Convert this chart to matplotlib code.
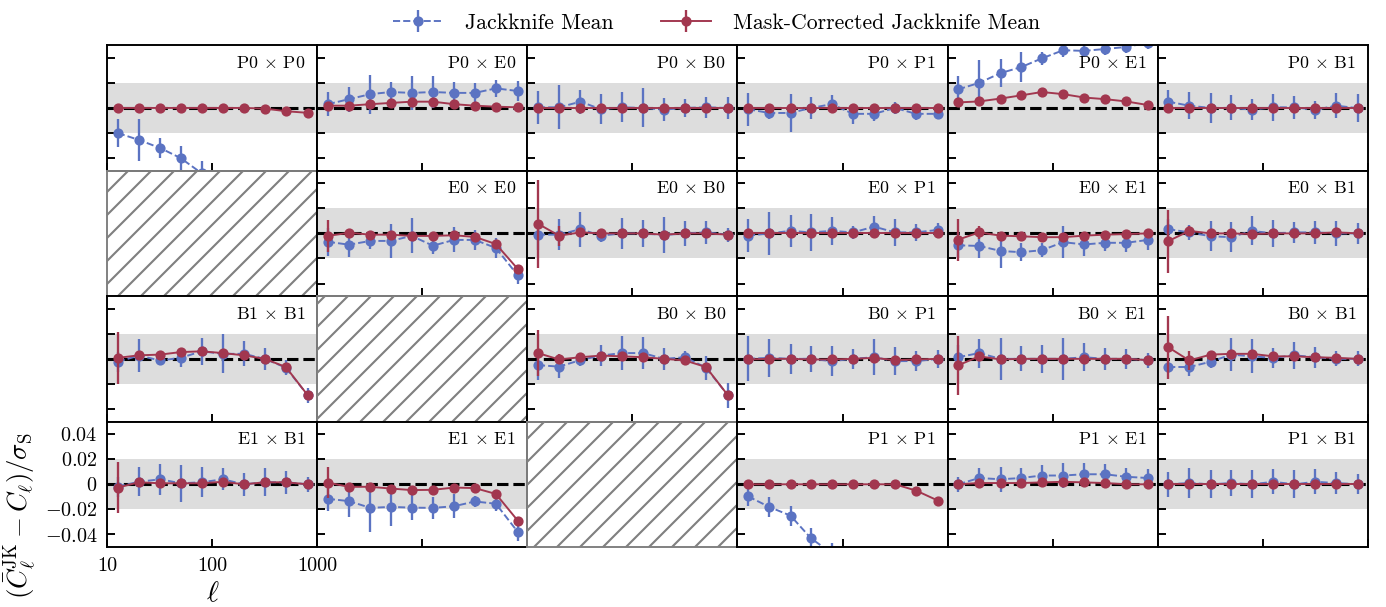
import matplotlib
matplotlib.use("Agg")
import matplotlib.pyplot as plt
from matplotlib.patches import Rectangle
import numpy as np

plt.rcParams.update({
    "font.family": "serif",
    "font.serif": ["cmr10"],
    "mathtext.fontset": "cm",
    "axes.formatter.use_mathtext": True,
    "axes.unicode_minus": False,
    "hatch.color": "gray",
    "hatch.linewidth": 1.1,
})

# multipole bin centres
ell = [12.6, 20, 32, 50, 79, 126, 200, 316, 501, 810]

# panel grid, None marks an unused slot
grid = [
    ["P0 P0", "P0 E0", "P0 B0", "P0 P1", "P0 E1", "P0 B1"],
    [None, "E0 E0", "E0 B0", "E0 P1", "E0 E1", "E0 B1"],
    ["B1 B1", None, "B0 B0", "B0 P1", "B0 E1", "B0 B1"],
    ["E1 B1", "E1 E1", None, "P1 P1", "P1 E1", "P1 B1"],
]

# plain jackknife mean and its error
jk_mean = {
    "P0 P0": [-0.020, -0.0255, -0.032, -0.040, -0.052, -0.065, -0.080, -0.095, -0.110, -0.130],
    "P0 E0": [0.003, 0.007, 0.011, 0.0127, 0.012, 0.0127, 0.012, 0.012, 0.0156, 0.0135],
    "P0 B0": [0.0005, 0.0005, 0.005, -0.001, 0.0005, 0.0, -0.0013, 0.0, 0.0005, 0.0],
    "P0 P1": [-0.001, -0.004, -0.004, 0.0, 0.003, -0.0047, -0.0047, 0.0, -0.0047, -0.0047],
    "P0 E1": [0.0148, 0.020, 0.0278, 0.0325, 0.0395, 0.046, 0.0455, 0.047, 0.0486, 0.052],
    "P0 B1": [0.005, 0.0018, 0.0, 0.0, -0.0013, 0.0005, 0.0005, -0.0015, 0.0018, -0.0002],
    "E0 E0": [-0.0067, -0.009, -0.006, -0.006, -0.002, -0.0098, -0.0052, -0.0052, -0.0116, -0.0335],
    "E0 B0": [-0.001, -0.001, 0.0034, -0.0018, 0.0, 0.0, -0.0013, 0.0, 0.0008, -0.001],
    "E0 P1": [-0.0018, 0.0, 0.002, 0.0008, 0.002, 0.0008, 0.0054, 0.0008, 0.0008, 0.0028],
    "E0 E1": [-0.0095, -0.010, -0.014, -0.015, -0.0134, -0.007, -0.0088, -0.0075, -0.0075, -0.0052],
    "E0 B1": [0.0034, 0.0008, -0.0023, -0.003, 0.002, 0.0, 0.0008, 0.0008, 0.0, 0.0],
    "B1 B1": [-0.0023, 0.0026, -0.0013, 0.0008, 0.006, 0.004, 0.004, 0.0, -0.007, -0.029],
    "B0 B0": [-0.005, -0.0062, -0.001, 0.0026, 0.0046, 0.0046, 0.0, 0.0013, -0.007, -0.029],
    "B0 P1": [0.0, 0.0008, 0.0, 0.0, -0.0018, 0.0, 0.0013, -0.0018, -0.0018, 0.0],
    "B0 E1": [0.0013, 0.0046, 0.0, 0.0, 0.0, 0.0, 0.0013, 0.0, 0.0, -0.001],
    "B0 B1": [-0.0065, -0.0065, -0.0023, 0.0034, 0.002, 0.0008, 0.0028, 0.0013, 0.0, 0.0],
    "E1 B1": [-0.0018, 0.002, 0.004, 0.0008, 0.0016, 0.004, 0.0, 0.0016, 0.0016, 0.0],
    "E1 E1": [-0.0116, -0.0134, -0.0188, -0.018, -0.0186, -0.0188, -0.0175, -0.0137, -0.0155, -0.038],
    "P1 P1": [-0.0096, -0.018, -0.025, -0.043, -0.055, -0.065, -0.075, -0.085, -0.095, -0.105],
    "P1 E1": [0.0, 0.005, 0.004, 0.005, 0.007, 0.007, 0.008, 0.008, 0.006, 0.005],
    "P1 B1": [0.0, 0.001, 0.0, 0.001, 0.0, 0.002, 0.0, 0.002, 0.001, 0.0],
}
jk_err = {
    "P0 P0": [0.011, 0.0166, 0.008, 0.010, 0.010, 0.010, 0.010, 0.010, 0.010, 0.010],
    "P0 E0": [0.0096, 0.010, 0.0155, 0.008, 0.0136, 0.013, 0.0085, 0.008, 0.007, 0.008],
    "P0 B0": [0.013, 0.0175, 0.0095, 0.012, 0.012, 0.0155, 0.009, 0.0072, 0.0085, 0.0085],
    "P0 P1": [0.013, 0.005, 0.0155, 0.009, 0.007, 0.008, 0.006, 0.005, 0.005, 0.004],
    "P0 E1": [0.0104, 0.018, 0.011, 0.012, 0.005, 0.005, 0.005, 0.005, 0.005, 0.005],
    "P0 B1": [0.009, 0.0107, 0.0117, 0.010, 0.0087, 0.0107, 0.0094, 0.007, 0.010, 0.011],
    "E0 E0": [0.011, 0.010, 0.0065, 0.0135, 0.014, 0.007, 0.010, 0.008, 0.008, 0.007],
    "E0 B0": [0.012, 0.0124, 0.014, 0.005, 0.0124, 0.011, 0.0145, 0.010, 0.009, 0.0055],
    "E0 P1": [0.013, 0.017, 0.0125, 0.0145, 0.011, 0.005, 0.0085, 0.0107, 0.0068, 0.0055],
    "E0 E1": [0.010, 0.0097, 0.0133, 0.007, 0.0054, 0.0125, 0.009, 0.0065, 0.007, 0.0078],
    "E0 B1": [0.008, 0.006, 0.012, 0.012, 0.0116, 0.0106, 0.0085, 0.009, 0.010, 0.0085],
    "B1 B1": [0.008, 0.013, 0.004, 0.007, 0.011, 0.0155, 0.010, 0.0085, 0.006, 0.006],
    "B0 B0": [0.012, 0.009, 0.005, 0.0085, 0.0135, 0.0127, 0.009, 0.005, 0.0095, 0.010],
    "B0 P1": [0.018, 0.015, 0.012, 0.0106, 0.012, 0.008, 0.0145, 0.011, 0.008, 0.007],
    "B0 E1": [0.010, 0.0115, 0.0165, 0.010, 0.011, 0.0165, 0.011, 0.009, 0.008, 0.006],
    "B0 B1": [0.005, 0.0075, 0.005, 0.013, 0.0135, 0.008, 0.011, 0.0085, 0.006, 0.006],
    "E1 B1": [0.008, 0.0115, 0.0125, 0.0147, 0.012, 0.0088, 0.009, 0.0113, 0.009, 0.006],
    "E1 E1": [0.010, 0.0125, 0.019, 0.0155, 0.010, 0.009, 0.0095, 0.004, 0.006, 0.007],
    "P1 P1": [0.008, 0.008, 0.008, 0.008, 0.008, 0.008, 0.008, 0.008, 0.008, 0.008],
    "P1 E1": [0.006, 0.008, 0.010, 0.008, 0.008, 0.010, 0.009, 0.008, 0.007, 0.007],
    "P1 B1": [0.010, 0.012, 0.011, 0.010, 0.011, 0.010, 0.011, 0.010, 0.009, 0.008],
}

# mask-corrected jackknife mean and its error
mc_mean = {
    "P0 P0": [0.0, 0.0, 0.0, 0.0, 0.0, 0.0, 0.0, -0.0005, -0.0026, -0.0039],
    "P0 E0": [0.0018, 0.0018, 0.003, 0.004, 0.005, 0.005, 0.003, 0.0018, 0.001, 0.0005],
    "P0 B0": [0.0, 0.0, 0.0, 0.0, 0.0, 0.0, 0.0, 0.0, 0.0, 0.0],
    "P0 P1": [0.0, 0.0, 0.0, 0.0, 0.0, 0.0, 0.0, 0.0, 0.0, 0.0],
    "P0 E1": [0.0044, 0.0052, 0.0075, 0.010, 0.0127, 0.011, 0.0083, 0.007, 0.0052, 0.0023],
    "P0 B1": [0.0, 0.0, 0.0, 0.0, 0.0, 0.0, 0.0, 0.0, 0.0, 0.0],
    "E0 E0": [-0.002, 0.0005, -0.001, -0.001, -0.002, -0.002, -0.0015, -0.0028, -0.0085, -0.0284],
    "E0 B0": [0.0077, -0.0018, 0.0008, 0.0, 0.0, 0.0, -0.001, 0.0, 0.0, -0.001],
    "E0 P1": [0.0, 0.0, 0.0, 0.0, 0.0, 0.0, 0.0, 0.0, 0.0, 0.0],
    "E0 E1": [-0.005, 0.0008, -0.0018, -0.0023, -0.003, -0.003, -0.0018, -0.001, -0.0005, 0.0],
    "E0 B1": [-0.0062, 0.002, 0.0, 0.0, -0.0005, 0.0, 0.0, 0.0, 0.0008, 0.0],
    "B1 B1": [0.0008, 0.0028, 0.0034, 0.0054, 0.006, 0.0046, 0.0028, 0.0, -0.0065, -0.029],
    "B0 B0": [0.0046, -0.0005, 0.0013, 0.0026, 0.002, 0.0013, 0.0, -0.0013, -0.0065, -0.029],
    "B0 P1": [-0.0005, 0.0, 0.0, -0.0005, -0.0005, 0.0, 0.0008, -0.001, -0.0005, 0.0],
    "B0 E1": [-0.0052, 0.002, -0.0005, 0.0, 0.0, 0.0, 0.0, 0.0, 0.0, -0.001],
    "B0 B1": [0.0093, -0.0013, 0.0034, 0.004, 0.004, 0.002, 0.002, 0.0013, 0.0008, 0.0],
    "E1 B1": [-0.0026, 0.0016, 0.0008, 0.0008, 0.0008, 0.002, 0.0, 0.0016, 0.0016, 0.0],
    "E1 E1": [0.0013, -0.002, -0.002, -0.0034, -0.0046, -0.0044, -0.0026, -0.003, -0.0077, -0.029],
    "P1 P1": [0.0, 0.0, 0.0, 0.0, 0.0, 0.0, 0.0, 0.0, -0.005, -0.013],
    "P1 E1": [0.0, 0.001, 0.001, 0.001, 0.0015, 0.002, 0.0015, 0.001, 0.0, 0.0],
    "P1 B1": [0.0, 0.0, 0.0, 0.0, 0.0, 0.0, 0.0, 0.0, 0.0, 0.0],
}
mc_err_first = {
    "E0 E0": 0.013, "E0 B0": 0.035, "E0 E1": 0.0167, "E0 B1": 0.025,
    "B1 B1": 0.0205, "B0 B0": 0.0186, "B0 E1": 0.0233, "B0 B1": 0.025,
    "E1 B1": 0.020, "E1 E1": 0.0125,
}
mc_err = {k: [mc_err_first.get(k, 0.0015)] + [0.0015] * 9 for k in mc_mean}
mc_err["E0 B0"][1] = 0.008
mc_err["E0 E1"][1] = 0.005
mc_err["E0 B1"][1] = 0.004
mc_err["B0 B0"][1] = 0.004
mc_err["B0 B1"][1] = 0.0075

blue = "#5b73c2"
red = "#a2374f"

fig, axes = plt.subplots(4, 6, figsize=(10, 4.38), dpi=138.6)
fig.subplots_adjust(left=0.0774, right=0.9868, top=0.9254, bottom=0.0988,
                    wspace=0, hspace=0)

handles = None
for r in range(4):
    for c in range(6):
        ax = axes[r, c]
        key = grid[r][c]
        if key is None:
            # unused slot: hatched, no axes
            ax.axis("off")
            ax.add_patch(Rectangle((0, 0), 1, 1, transform=ax.transAxes,
                                   fill=False, hatch="//", edgecolor="gray",
                                   lw=1.0, clip_on=False))
            continue

        ax.axhspan(-0.02, 0.02, color="#dddddd", lw=0, zorder=0)
        ax.axhline(0, color="k", ls="--", lw=1.6, zorder=1)

        h1 = ax.errorbar(ell, jk_mean[key], yerr=jk_err[key], color=blue,
                         ls="--", lw=1.0, marker="o", ms=4.3, elinewidth=1.2,
                         capsize=0, zorder=2)
        h2 = ax.errorbar(ell, mc_mean[key], yerr=mc_err[key], color=red,
                         ls="-", lw=1.0, marker="o", ms=4.3, elinewidth=1.2,
                         capsize=0, zorder=3)
        handles = (h1, h2)

        a, b = key.split()
        ax.text(0.945, 0.925, f"{a} $\\times$ {b}", transform=ax.transAxes,
                ha="right", va="top", fontsize=9.3)

        ax.set_xscale("log")
        ax.set_xlim(10, 1000)
        ax.set_ylim(-0.05, 0.05)
        ax.set_xticks([10, 100, 1000])
        ax.set_yticks([-0.04, -0.02, 0, 0.02, 0.04])
        ax.minorticks_off()
        ax.tick_params(direction="in", length=4, width=1.0, pad=5,
                       top=False, right=False, labelsize=10.5)
        for s in ax.spines.values():
            s.set_linewidth(1.0)

        if r == 3 and c == 0:
            ax.set_xticklabels(["10", "100", "1000"])
            ax.set_yticklabels([r"$-0.04$", r"$-0.02$", r"$0$", r"$0.02$", r"$0.04$"])
            ax.set_xlabel(r"$\ell$", fontsize=15, labelpad=3)
            ax.set_ylabel(r"$(\bar{C}_\ell^{\rm JK} - C_\ell)/\sigma_{\rm S}$",
                          fontsize=14)
            ax.yaxis.set_label_coords(-0.33, 0.25)
        else:
            ax.set_xticklabels([])
            ax.set_yticklabels([])

fig.legend(handles, ["Jackknife Mean", "Mask-Corrected Jackknife Mean"],
           loc="upper center", bbox_to_anchor=(0.517, 1.01), ncol=2,
           frameon=False, fontsize=11.3, handlelength=2.3, handletextpad=1.0,
           columnspacing=2.2)

fig.savefig("out.png", dpi=138.6)
